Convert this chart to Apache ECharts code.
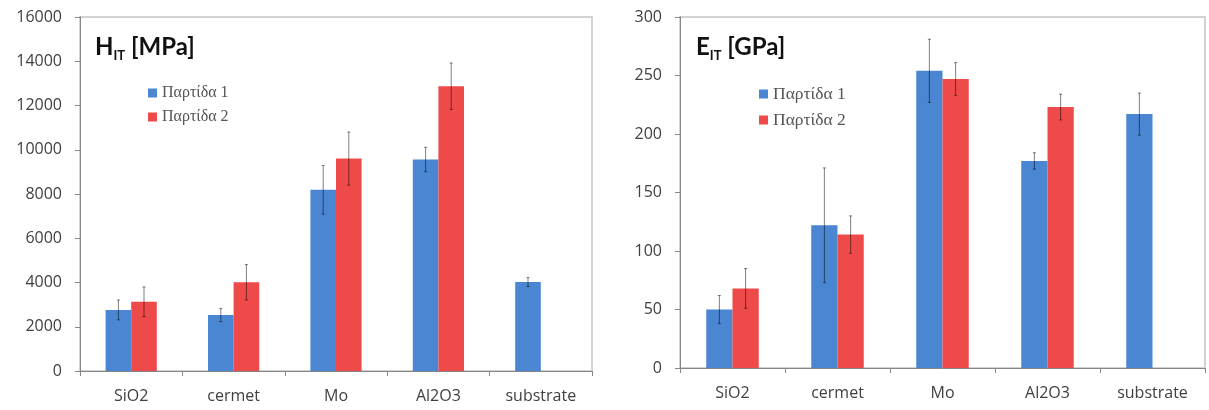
<!DOCTYPE html>
<html>
<head>
<meta charset="utf-8">
<script src="https://cdn.jsdelivr.net/npm/echarts@6/dist/echarts.min.js"></script>
<style>html,body{margin:0;padding:0;background:#fff;}#c{width:1209px;height:410px;}</style>
</head>
<body>
<div id="c"></div>
<script>
const categories = ['SiO2', 'cermet', 'Mo', 'Al2O3', 'substrate'];
const seriesNames = ['Παρτίδα 1', 'Παρτίδα 2'];
// Hardness H_IT [MPa]
const hit1 = [2760, 2530, 8190, 9560, 4020];
const hit2 = [3130, 4010, 9600, 12870, null];
const hitErr1 = [450, 300, 1100, 550, 200];
const hitErr2 = [670, 800, 1200, 1050, null];
// Modulus E_IT [GPa]
const eit1 = [50, 122, 254, 177, 217];
const eit2 = [68, 114, 247, 223, null];
const eitErr1 = [12, 49, 27, 7, 18];
const eitErr2 = [17, 16, 14, 11, null];

const BLUE = '#4a86d2', RED = '#ef4a4a';
const axisLabel = {color: '#404040', fontFamily: 'Open Sans', fontSize: 16};

function errSeries(gi, vals, errs, side, name) {
  return {
    type: 'custom', name: name, xAxisIndex: gi, yAxisIndex: gi, z: 5,
    silent: true,
    data: vals.map((v, i) => (v == null ? null : [i, v, errs[i]])).filter(d => d),
    renderItem: function (params, api) {
      const i = api.value(0), v = api.value(1), e = api.value(2);
      const band = api.size([1, 0])[0];
      const dx = side * band * 0.125;
      const top = api.coord([i, v + e]);
      const bot = api.coord([i, v - e]);
      const x = top[0] + dx;
      const style = {stroke: '#000', lineWidth: 1, opacity: 0.5};
      return {type: 'group', children: [
        {type: 'line', shape: {x1: x, y1: top[1], x2: x, y2: bot[1]}, style: style},
        {type: 'line', shape: {x1: x - 1.5, y1: top[1], x2: x + 1.5, y2: top[1]}, style: style},
        {type: 'line', shape: {x1: x - 1.5, y1: bot[1], x2: x + 1.5, y2: bot[1]}, style: style}
      ]};
    }
  };
}

function barSeries(gi, name, data, color) {
  return {type: 'bar', name: name, xAxisIndex: gi, yAxisIndex: gi, data: data,
    barWidth: '25%', barGap: '0%', itemStyle: {color: color}};
}

function xAxis(gi) {
  return {type: 'category', gridIndex: gi, data: categories,
    axisLine: {lineStyle: {color: '#868686', width: 1}},
    axisTick: {show: true, length: 5, lineStyle: {color: '#868686'}},
    axisLabel: Object.assign({margin: 17}, axisLabel)};
}
function yAxis(gi, max, interval) {
  return {type: 'value', gridIndex: gi, min: 0, max: max, interval: interval,
    splitLine: {show: false},
    axisLine: {show: true, lineStyle: {color: '#868686', width: 1}},
    axisTick: {show: true, length: 5, lineStyle: {color: '#868686'}},
    axisLabel: Object.assign({margin: 18, formatter: (v) => String(v)}, axisLabel)};
}

const titleRich = {
  b: {fontFamily: 'Lato', fontWeight: 'bold', fontSize: 24, color: '#111', lineHeight: 30, verticalAlign: 'middle'},
  s: {fontFamily: 'Lato', fontWeight: 'bold', fontSize: 13, color: '#111', lineHeight: 12, verticalAlign: 'bottom'}
};

const legendText = (size) => ({fontFamily: 'Liberation Serif', fontSize: size, color: '#555', lineHeight: 16});

const option = {
  animation: false,
  backgroundColor: '#fff',
  title: [
    {text: '{b|H}{s|IT}{b| [MPa]}', left: 90, top: 27, textStyle: {rich: titleRich}},
    {text: '{b|E}{s|IT}{b| [GPa]}', left: 691, top: 27, textStyle: {rich: titleRich}}
  ],
  legend: [
    {data: seriesNames, orient: 'vertical', left: 143, top: 80, itemWidth: 9, itemHeight: 9,
      itemGap: 8, icon: 'rect', textStyle: legendText(16)},
    {data: seriesNames, orient: 'vertical', left: 754, top: 80, itemWidth: 9, itemHeight: 9,
      itemGap: 8, icon: 'rect', textStyle: legendText(17.5)}
  ],
  grid: [
    {left: 80, top: 17, width: 512, height: 354, show: true, borderColor: '#d2d2d2', borderWidth: 2, backgroundColor: 'transparent'},
    {left: 680, top: 17, width: 525, height: 351, show: true, borderColor: '#d2d2d2', borderWidth: 2, backgroundColor: 'transparent'}
  ],
  xAxis: [xAxis(0), xAxis(1)],
  yAxis: [yAxis(0, 16000, 2000), yAxis(1, 300, 50)],
  series: [
    barSeries(0, seriesNames[0], hit1, BLUE),
    barSeries(0, seriesNames[1], hit2, RED),
    barSeries(1, seriesNames[0], eit1, BLUE),
    barSeries(1, seriesNames[1], eit2, RED),
    errSeries(0, hit1, hitErr1, -1, 'e1'),
    errSeries(0, hit2, hitErr2, 1, 'e2'),
    errSeries(1, eit1, eitErr1, -1, 'e3'),
    errSeries(1, eit2, eitErr2, 1, 'e4')
  ]
};
const chart = echarts.init(document.getElementById('c'), null, {renderer: 'canvas'});
chart.setOption(option);
</script>
</body>
</html>
